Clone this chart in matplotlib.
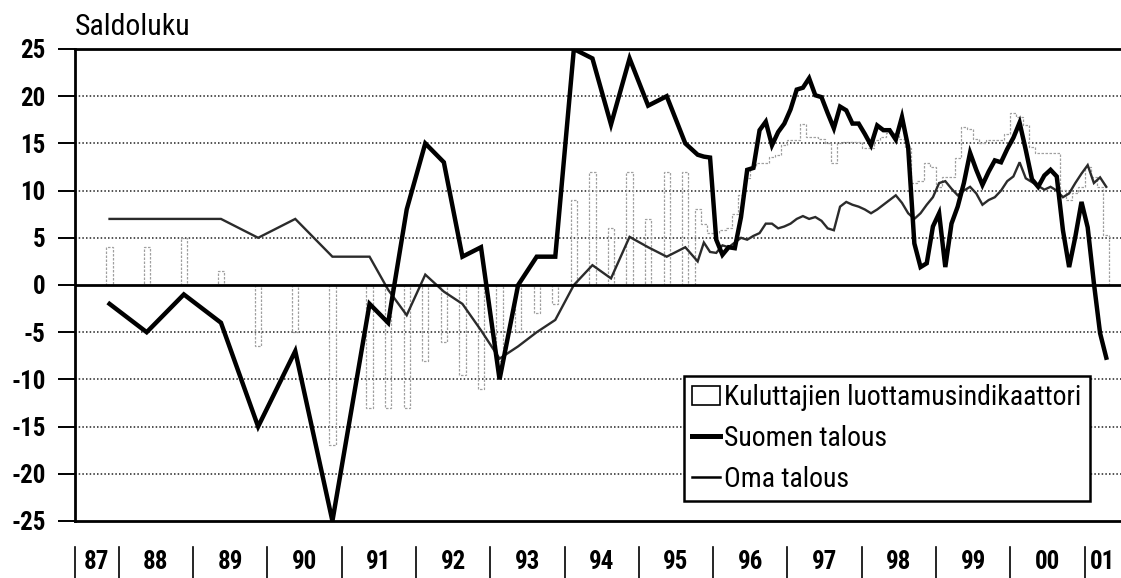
"""
Kuluttajabarometri: luottamusindikaattori sekä Suomen ja oman talouden odotukset.
Writes out.png (1121x578).
"""

import matplotlib
matplotlib.use("Agg")
import matplotlib.pyplot as plt
from matplotlib import font_manager
from matplotlib.lines import Line2D
from matplotlib.patches import Patch
from matplotlib.transforms import blended_transform_factory
import numpy as np
import pandas as pd

# ── Data ───────────────────────────────────────────────────────
# semiannual 1987-1991, then quarterly up to Aug 1995
early_periods = [
    "1987-11", "1988-05", "1988-11", "1989-05", "1989-11", "1990-05",
    "1990-11", "1991-05", "1991-08", "1991-11", "1992-02", "1992-05",
    "1992-08", "1992-11", "1993-02", "1993-05", "1993-08", "1993-11",
    "1994-02", "1994-05", "1994-08", "1994-11", "1995-02", "1995-05",
    "1995-08",
]
luottamus_early = [4, 4, 5, 1.5, -6.5, -5, -17, -13, -13, -13, -8, -6,
                   -9.5, -11, -8, -5, -3, -2, 9, 12, 6, 12, 7, 12, 12]
suomen_early = [-2, -5, -1, -4, -15, -7, -25, -2, -4, 8, 15, 13,
                3, 4, -10, 0, 3, 3, 25, 24, 17, 24, 19, 20, 15]
oma_early = [7, 7, 7, 7, 5, 7, 3, 3, -0.5, -3.2, 1.1, -0.7,
             -2, -4.8, -7.8, -6.5, -5, -3.7, 0, 2.1, 0.7, 5.1, 4, 3, 4]

# monthly Oct 1995 - Apr 2001
monthly_first, monthly_last = "1995-10", "2001-04"
luottamus_monthly = [
    8.0, 6.5, 5.5,
    5.5, 5.8, 6.0, 7.5, 9.5, 11.3, 12.5, 12.9, 12.9, 13.6, 13.8, 14.8,
    15.4, 15.4, 17.1, 15.7, 15.7, 15.5, 15.0, 12.9, 15.0, 15.2, 15.2, 15.2,
    14.5, 14.5, 15.4, 15.7, 16.1, 16.1, 15.5, 14.5, 10.8, 11.0, 12.9, 12.5,
    10.4, 11.4, 11.4, 13.5, 16.7, 16.5, 15.5, 15.0, 15.4, 15.4, 15.4, 16.0,
    18.2, 17.8, 17.0, 14.6, 14.0, 14.0, 14.0, 14.0, 10.1, 9.0, 9.7, 10.4,
    12.5, 11.4, 10.4, 5.3,
]
suomen_monthly = [
    13.8, 13.6, 13.5,
    4.8, 3.2, 4.0, 3.9, 7.2, 12.2, 12.4, 16.4, 17.3, 14.8, 16.2, 17.1,
    18.6, 20.7, 20.9, 21.9, 20.1, 19.9, 18.2, 16.6, 18.9, 18.5, 17.1, 17.1,
    16.0, 14.8, 16.9, 16.4, 16.4, 15.4, 17.8, 14.6, 4.4, 1.9, 2.3, 6.2,
    7.6, 1.9, 6.5, 8.3, 10.8, 14.0, 12.2, 10.6, 12.0, 13.2, 13.0, 14.4,
    15.6, 17.2, 14.3, 11.2, 10.4, 11.6, 12.2, 11.5, 5.8, 1.9, 5.1, 8.8,
    6.1, 0.2, -5.1, -7.7,
]
oma_monthly = [
    2.5, 4.5, 3.5,
    3.4, 4.2, 4.0, 4.5, 5.0, 4.8, 5.2, 5.5, 6.5, 6.5, 6.0, 6.2,
    6.5, 7.0, 7.3, 7.0, 7.2, 6.8, 6.0, 5.8, 8.3, 8.8, 8.5, 8.3,
    8.0, 7.6, 8.0, 8.5, 9.0, 9.5, 8.7, 7.6, 7.0, 7.6, 8.5, 9.3,
    10.8, 11.0, 10.2, 9.5, 10.0, 10.4, 9.7, 8.5, 9.0, 9.3, 10.0, 11.0,
    11.5, 13.0, 11.3, 10.9, 10.5, 10.1, 10.4, 10.0, 9.3, 9.7, 10.8, 11.8,
    12.7, 10.8, 11.4, 10.4,
]

year_labels = ["87", "88", "89", "90", "91", "92", "93", "94",
               "95", "96", "97", "98", "99", "00", "01"]
first_year = 1987
y_ticks = [25, 20, 15, 10, 5, 0, -5, -10, -15, -20, -25]
x_range = (1987.41, 2001.49)

series_labels = ["Kuluttajien luottamusindikaattori", "Suomen talous", "Oma talous"]


# ── Helpers ────────────────────────────────────────────────────
def _pick_font() -> str:
    names = {f.name for f in font_manager.fontManager.ttflist}
    for fam in ("Liberation Sans Narrow", "Roboto Condensed", "Liberation Sans"):
        if fam in names:
            return fam
    return "DejaVu Sans"


def _decimal_year(periods) -> np.ndarray:
    """Month periods -> decimal year at the middle of the month."""
    p = pd.PeriodIndex(periods, freq="M")
    return np.asarray(p.year + (p.month - 0.5) / 12.0, dtype=float)


# ── Build series ───────────────────────────────────────────────
monthly_periods = pd.period_range(monthly_first, monthly_last, freq="M")
x_early = _decimal_year(early_periods)
x_monthly = _decimal_year(monthly_periods)
x_all = np.concatenate([x_early, x_monthly])
suomen = suomen_early + suomen_monthly
oma = oma_early + oma_monthly

FONT = _pick_font()
plt.rcParams["font.family"] = [FONT, "DejaVu Sans"]

fig = plt.figure(figsize=(11.21, 5.78), dpi=100)
ax = fig.add_axes([75 / 1121, 1 - 521 / 578, 1 - 75 / 1121, 472 / 578])

bar_style = dict(edgecolor="#a0a0a0", linewidth=0.9, linestyle=(0, (2.0, 1.2)))
# sparse observations: separate one-month-wide bars
ax.bar(x_early, luottamus_early, width=1 / 12, facecolor="none",
       zorder=2, **bar_style)
# monthly observations: the bars join into one stepped outline
month_edges = np.append(x_monthly - 1 / 24, x_monthly[-1] + 1 / 24)
ax.stairs(luottamus_monthly, month_edges, baseline=0, fill=False,
          color=bar_style["edgecolor"], linewidth=bar_style["linewidth"],
          linestyle=bar_style["linestyle"], zorder=2)

ax.plot(x_all, oma, color="#2b2b2b", linewidth=1.7, zorder=3,
        solid_joinstyle="miter")
ax.plot(x_all, suomen, color="black", linewidth=3.2, zorder=4,
        solid_joinstyle="miter")

# grid and frame
for v in y_ticks:
    if v in (25, 0, -25):
        continue
    ax.axhline(v, color="#222222", linewidth=1.1, linestyle=(0, (1.0, 1.4)),
               zorder=1)
ax.axhline(0, color="black", linewidth=2.0, zorder=5)

ax.set_xlim(*x_range)
ax.set_ylim(-25, 25)
for side in ("top", "bottom", "left"):
    ax.spines[side].set_linewidth(2.0)
    ax.spines[side].set_zorder(6)
ax.spines["right"].set_visible(False)

ax.set_yticks(y_ticks)
ax.set_yticklabels([str(v) for v in y_ticks], fontsize=18, fontweight="bold")
ax.tick_params(axis="y", direction="out", length=12, width=1.4, pad=9)
ax.set_xticks([])

# year labels and separators under the axis
trans = blended_transform_factory(ax.transData, ax.transAxes)
n_years = len(year_labels)
bounds = [x_range[0]] + [first_year + i for i in range(1, n_years)] + [x_range[1]]
for i, lab in enumerate(year_labels):
    mid = (bounds[i] + bounds[i + 1]) / 2
    ax.text(mid, -0.087, lab, transform=trans, ha="center", va="center",
            fontsize=18, fontweight="bold", clip_on=False)
for b in bounds[:-1]:
    ax.plot([b, b], [-0.055, -0.121], transform=trans, color="black",
            linewidth=1.2, clip_on=False)

fig.text(75 / 1121, 1 - 35 / 578, "Saldoluku", fontsize=21.5,
         ha="left", va="baseline")

handles = [
    Patch(facecolor="white", edgecolor="black", linewidth=1.2),
    Line2D([], [], color="black", linewidth=3.6),
    Line2D([], [], color="black", linewidth=1.8),
]
leg = ax.legend(handles, series_labels, loc="upper left",
                bbox_to_anchor=(0.582, 0.308), fontsize=20, frameon=True,
                fancybox=False, framealpha=1, edgecolor="black",
                borderpad=0.3, handlelength=1.0, handleheight=0.7,
                handletextpad=0.15, labelspacing=0.5, borderaxespad=0)
leg.get_frame().set_linewidth(1.8)
leg.set_zorder(7)

fig.savefig("out.png", dpi=100)
